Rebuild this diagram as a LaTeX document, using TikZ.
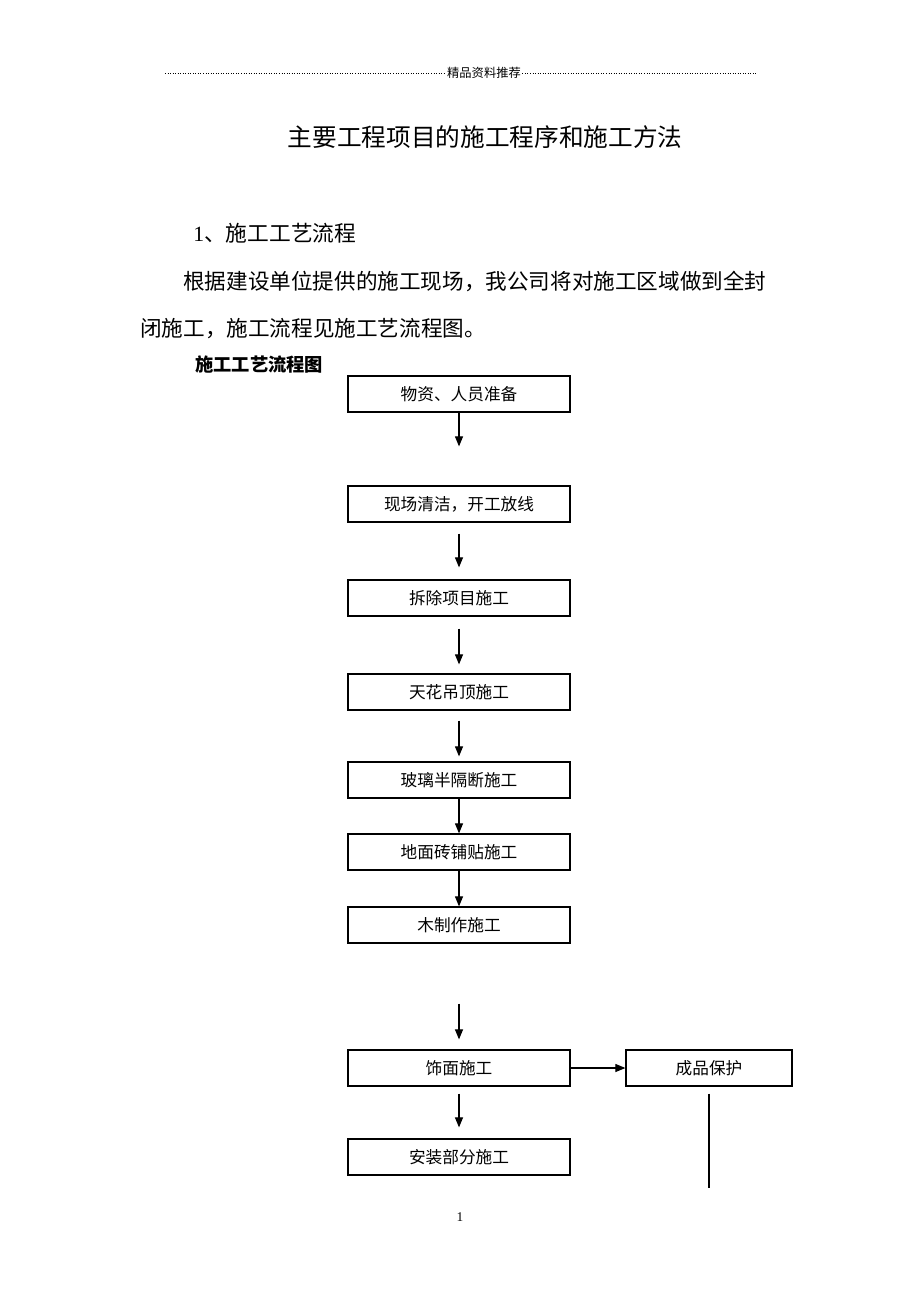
\documentclass[tikz,border=0pt]{standalone}
\usepackage{fontspec}
\setmainfont{Liberation Serif}
\newfontfamily\cjk{Noto Sans CJK SC}
\usetikzlibrary{arrows.meta}

\begin{document}
\begin{tikzpicture}[x=0.75pt,y=-0.75pt,
  stepbox/.style={draw,line width=0.9pt,inner sep=0pt,minimum width=166.5pt,minimum height=27pt,font=\cjk\fontsize{12.5}{14}\selectfont},
  flow/.style={line width=0.8pt,-{Triangle[length=7.5pt,width=6pt]}}]
\useasboundingbox[fill=white] (0,0) rectangle (920,1302);

\node[font=\cjk\fontsize{9.2}{11}\selectfont,inner sep=1pt] (head) at (484,73) {精品资料推荐};
\coordinate (headL) at (165,73);
\coordinate (headR) at (756,73);
\draw[line width=0.7pt,dash pattern=on 0.7pt off 1.2pt] (headL) -- (head.west);
\draw[line width=0.7pt,dash pattern=on 0.7pt off 1.2pt] (head.east) -- (headR);

\node[font=\cjk\fontsize{18.5}{20}\selectfont,inner sep=0pt] (title) at (485,137) {主要工程项目的施工程序和施工方法};
\node[anchor=west,font=\fontsize{16.3}{18}\selectfont,inner sep=0pt] (sec) at (193,233) {1{\cjk 、施工工艺流程}};
\node[anchor=west,font=\cjk\fontsize{16.2}{18}\selectfont,inner sep=0pt] (para1) at (183,281) {根据建设单位提供的施工现场，我公司将对施工区域做到全封};
\node[anchor=west,font=\cjk\fontsize{16.2}{18}\selectfont,inner sep=0pt] (para2) at (140,329) {闭施工，施工流程见施工艺流程图。};
\node[anchor=west,font=\cjk\bfseries\fontsize{13.7}{16}\selectfont,inner sep=0pt] (chart) at (195,365) {施工工艺流程图};

\node[stepbox] (b1) at (459,394) {物资、人员准备};
\node[stepbox] (b2) at (459,504) {现场清洁，开工放线};
\node[stepbox] (b3) at (459,598) {拆除项目施工};
\node[stepbox] (b4) at (459,692) {天花吊顶施工};
\node[stepbox] (b5) at (459,780) {玻璃半隔断施工};
\node[stepbox] (b6) at (459,852) {地面砖铺贴施工};
\node[stepbox] (b7) at (459,925) {木制作施工};
\node[stepbox] (b8) at (459,1068) {饰面施工};
\node[stepbox,minimum width=124.5pt] (b9) at (709,1068) {成品保护};
\node[stepbox] (b10) at (459,1157) {安装部分施工};
\coordinate (end) at (709,1188);

\draw[flow,shorten >=29.25pt] (b1) -- (b2);
\draw[flow,shorten <=8.25pt,shorten >=9pt] (b2) -- (b3);
\draw[flow,shorten <=9pt,shorten >=6.75pt] (b3) -- (b4);
\draw[flow,shorten <=7.5pt,shorten >=3.75pt] (b4) -- (b5);
\draw[flow] (b5) -- (b6);
\draw[flow] (b6) -- (b7);
\draw[flow,shorten <=45pt,shorten >=7.5pt] (b7) -- (b8);
\draw[flow] (b8) -- (b9);
\draw[flow,shorten <=5.25pt,shorten >=8.25pt] (b8) -- (b10);
\draw[line width=0.8pt,shorten <=5.25pt] (b9) -- (end);

\node[font=\fontsize{10}{12}\selectfont,inner sep=0pt] (page) at (460,1217) {1};
\end{tikzpicture}
\end{document}
